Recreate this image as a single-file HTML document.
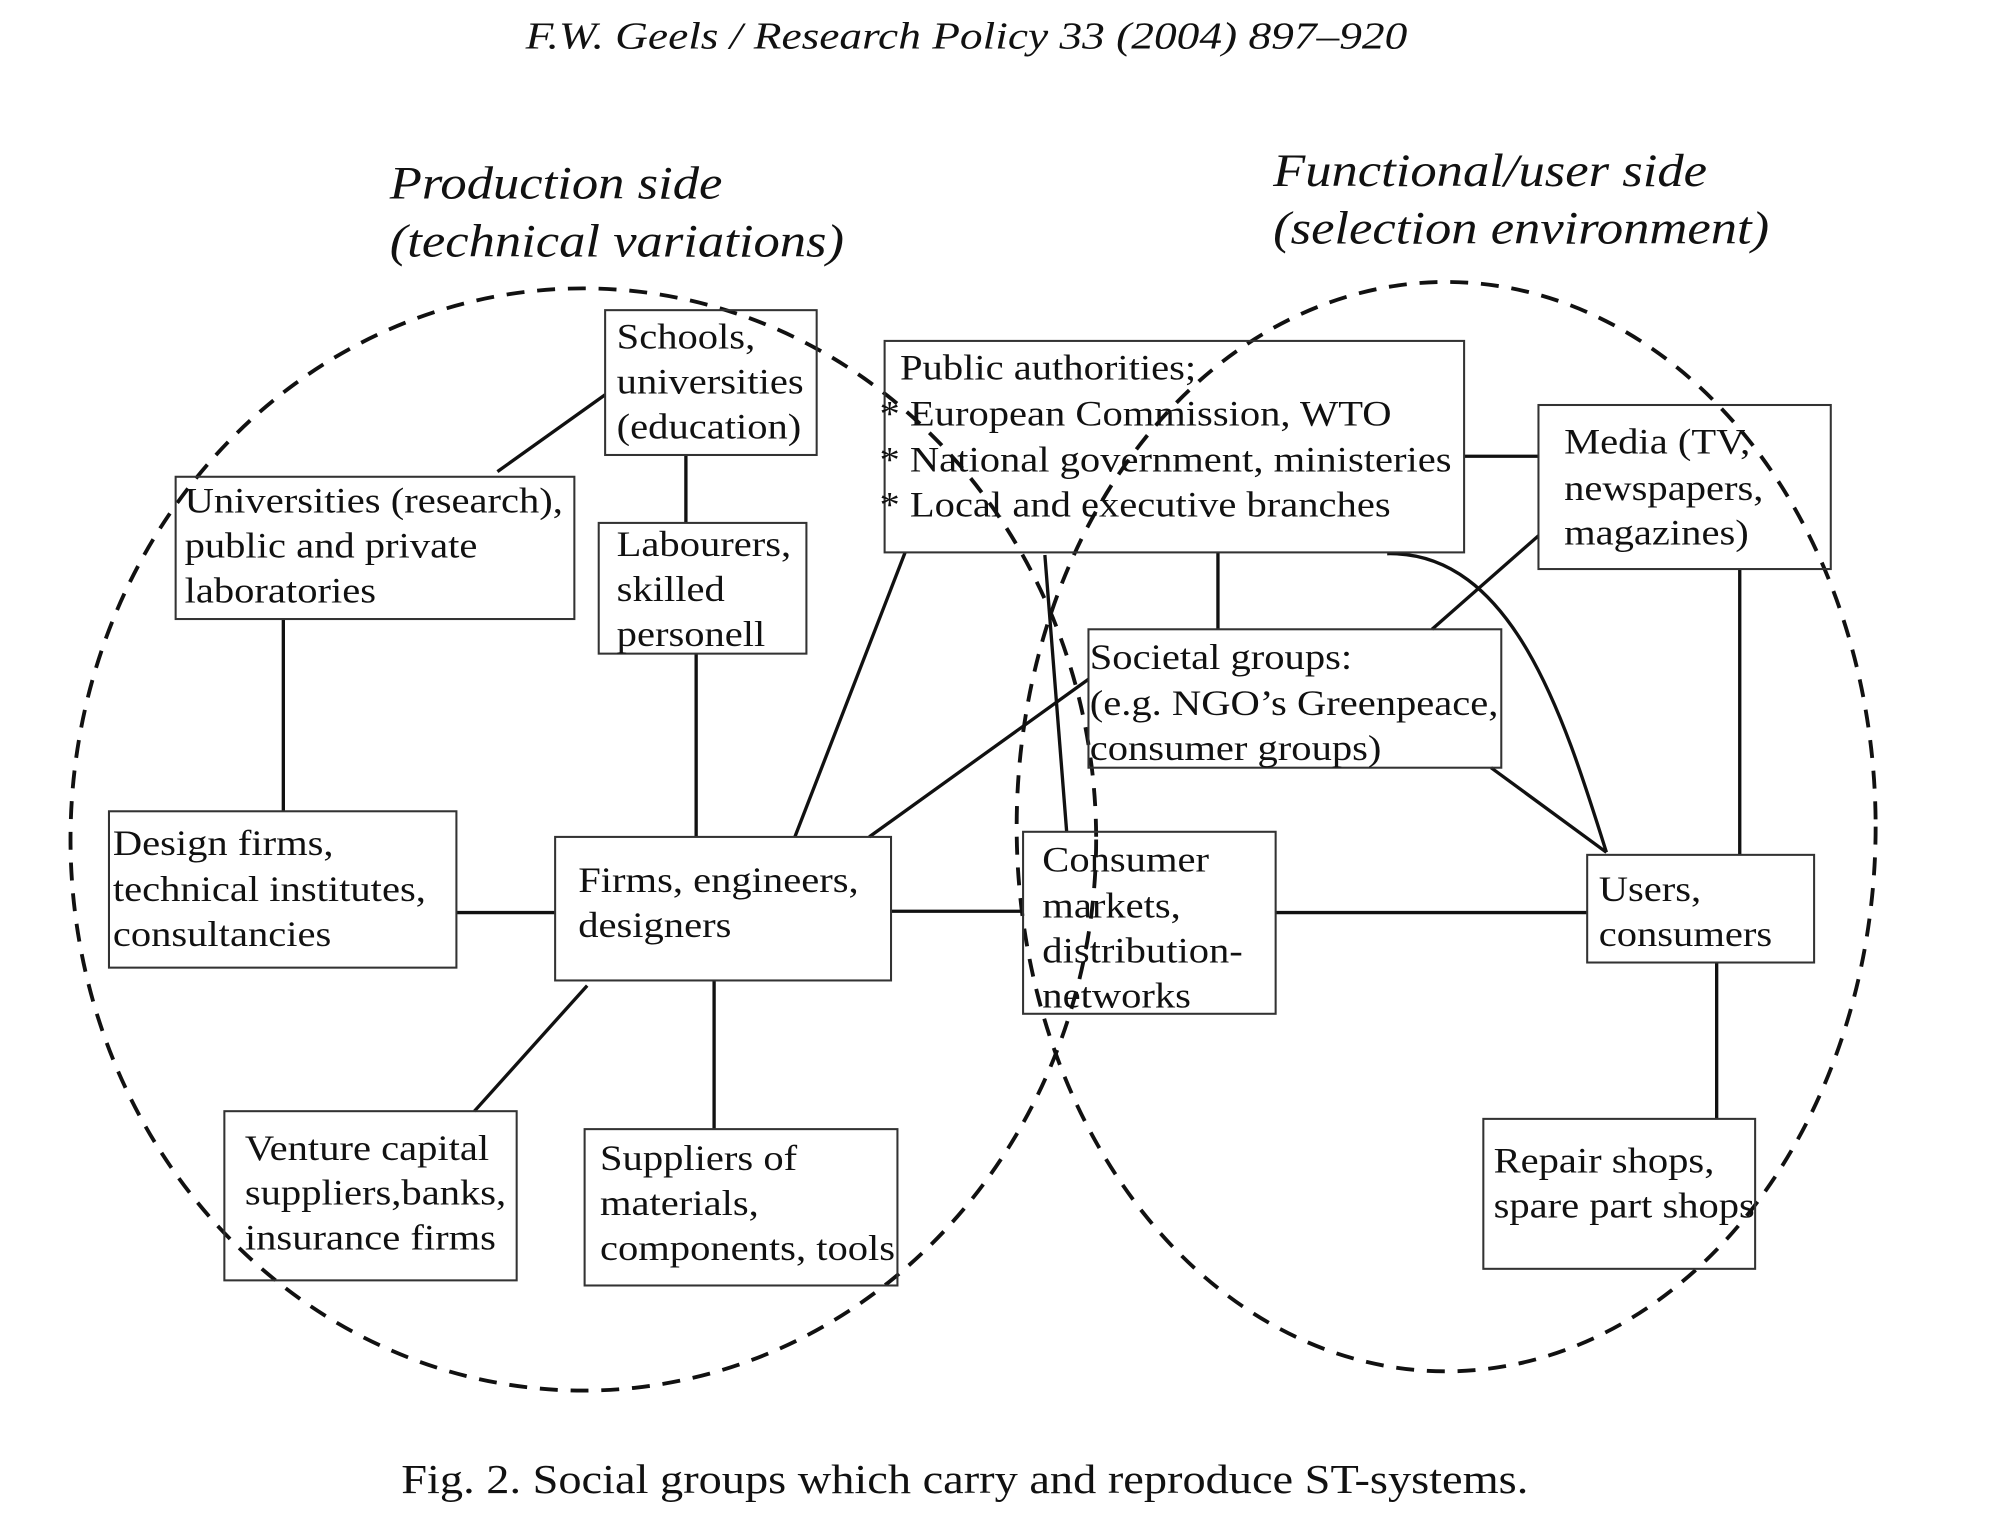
<!DOCTYPE html>
<html><head><meta charset="utf-8"><style>html,body{margin:0;padding:0;background:#fff}svg{display:block}</style></head>
<body>
<svg width="2000" height="1529" viewBox="0 0 1560 1193" preserveAspectRatio="none" xmlns="http://www.w3.org/2000/svg" font-family="Liberation Serif, serif" fill="#111">
<g transform="translate(410 38) scale(1.18 1)"><text x="0" y="0" font-size="30" font-style="italic">F.W. Geels / Research Policy 33 (2004) 897–920</text></g>
<g font-size="36" font-style="italic">
<g transform="translate(304 155) scale(1.14 1)"><text>Production side</text></g>
<g transform="translate(304 200) scale(1.14 1)"><text>(technical variations)</text></g>
<g transform="translate(993 145) scale(1.14 1)"><text>Functional/user side</text></g>
<g transform="translate(993 190) scale(1.14 1)"><text>(selection environment)</text></g>
</g>
<g fill="none" stroke="#111" stroke-width="3" stroke-dasharray="14,10">
<ellipse cx="455" cy="655" rx="400" ry="430"/>
<ellipse cx="1128" cy="645" rx="335" ry="425"/>
</g>
<g stroke="#111" stroke-width="2.6" fill="none">
<line x1="388" y1="368" x2="472" y2="308"/>
<line x1="535" y1="355" x2="535" y2="408"/>
<line x1="221" y1="483" x2="221" y2="633"/>
<line x1="543" y1="510" x2="543" y2="653"/>
<line x1="356" y1="712" x2="433" y2="712"/>
<line x1="620" y1="653" x2="706" y2="431"/>
<line x1="678" y1="653" x2="849" y2="530"/>
<line x1="695" y1="711" x2="798" y2="711"/>
<line x1="458" y1="769" x2="370" y2="867"/>
<line x1="557" y1="765" x2="557" y2="881"/>
<line x1="1142" y1="356" x2="1200" y2="356"/>
<line x1="950" y1="431" x2="950" y2="491"/>
<line x1="815" y1="433" x2="832" y2="649"/>
<path d="M1082,432 C1180,430 1220,560 1253,665"/>
<line x1="1200" y1="418" x2="1117" y2="491"/>
<line x1="1357" y1="444" x2="1357" y2="667"/>
<line x1="1163" y1="599" x2="1253" y2="665"/>
<line x1="995" y1="712" x2="1238" y2="712"/>
<line x1="1339" y1="751" x2="1339" y2="873"/>
</g>
<g fill="none" stroke="#333" stroke-width="1.6">
<rect x="472" y="242" width="165" height="113"/>
<rect x="137" y="372" width="311" height="111"/>
<rect x="467" y="408" width="162" height="102"/>
<rect x="690" y="266" width="452" height="165"/>
<rect x="1200" y="316" width="228" height="128"/>
<rect x="849" y="491" width="322" height="108"/>
<rect x="85" y="633" width="271" height="122"/>
<rect x="433" y="653" width="262" height="112"/>
<rect x="798" y="649" width="197" height="142"/>
<rect x="1238" y="667" width="177" height="84"/>
<rect x="175" y="867" width="228" height="132"/>
<rect x="456" y="881" width="244" height="122"/>
<rect x="1157" y="873" width="212" height="117"/>
</g>
<g font-size="28">
<g transform="translate(481 0) scale(1.13 1)"><text y="272">Schools,</text><text y="307">universities</text><text y="342">(education)</text></g>
<g transform="translate(144 0) scale(1.13 1)"><text y="400">Universities (research),</text><text y="435">public and private</text><text y="470">laboratories</text></g>
<g transform="translate(481 0) scale(1.13 1)"><text y="434">Labourers,</text><text y="469">skilled</text><text y="504">personell</text></g>
<g transform="translate(702 0) scale(1.13 1)"><text y="296">Public authorities;</text></g>
<g transform="translate(686 0) scale(1.13 1)"><text y="332">* European Commission, WTO</text><text y="368">* National government, ministeries</text><text y="403">* Local and executive branches</text></g>
<g transform="translate(1220 0) scale(1.13 1)"><text y="354">Media (TV,</text><text y="390">newspapers,</text><text y="425">magazines)</text></g>
<g transform="translate(850 0) scale(1.13 1)"><text y="522">Societal groups:</text><text y="558">(e.g. NGO’s Greenpeace,</text><text y="593">consumer groups)</text></g>
<g transform="translate(88 0) scale(1.13 1)"><text y="667">Design firms,</text><text y="703">technical institutes,</text><text y="738">consultancies</text></g>
<g transform="translate(451 0) scale(1.13 1)"><text y="696">Firms, engineers,</text><text y="731">designers</text></g>
<g transform="translate(813 0) scale(1.13 1)"><text y="680">Consumer</text><text y="716">markets,</text><text y="751">distribution-</text><text y="786">networks</text></g>
<g transform="translate(1247 0) scale(1.13 1)"><text y="703">Users,</text><text y="738">consumers</text></g>
<g transform="translate(191 0) scale(1.13 1)"><text y="905">Venture capital</text><text y="940">suppliers,banks,</text><text y="975">insurance firms</text></g>
<g transform="translate(468 0) scale(1.13 1)"><text y="913">Suppliers of</text><text y="948">materials,</text><text y="983">components, tools</text></g>
<g transform="translate(1165 0) scale(1.13 1)"><text y="915">Repair shops,</text><text y="950">spare part shops</text></g>
</g>
<g transform="translate(313 1165) scale(1.13 1)"><text font-size="32">Fig. 2. Social groups which carry and reproduce ST-systems.</text></g>
</svg>
</body></html>
